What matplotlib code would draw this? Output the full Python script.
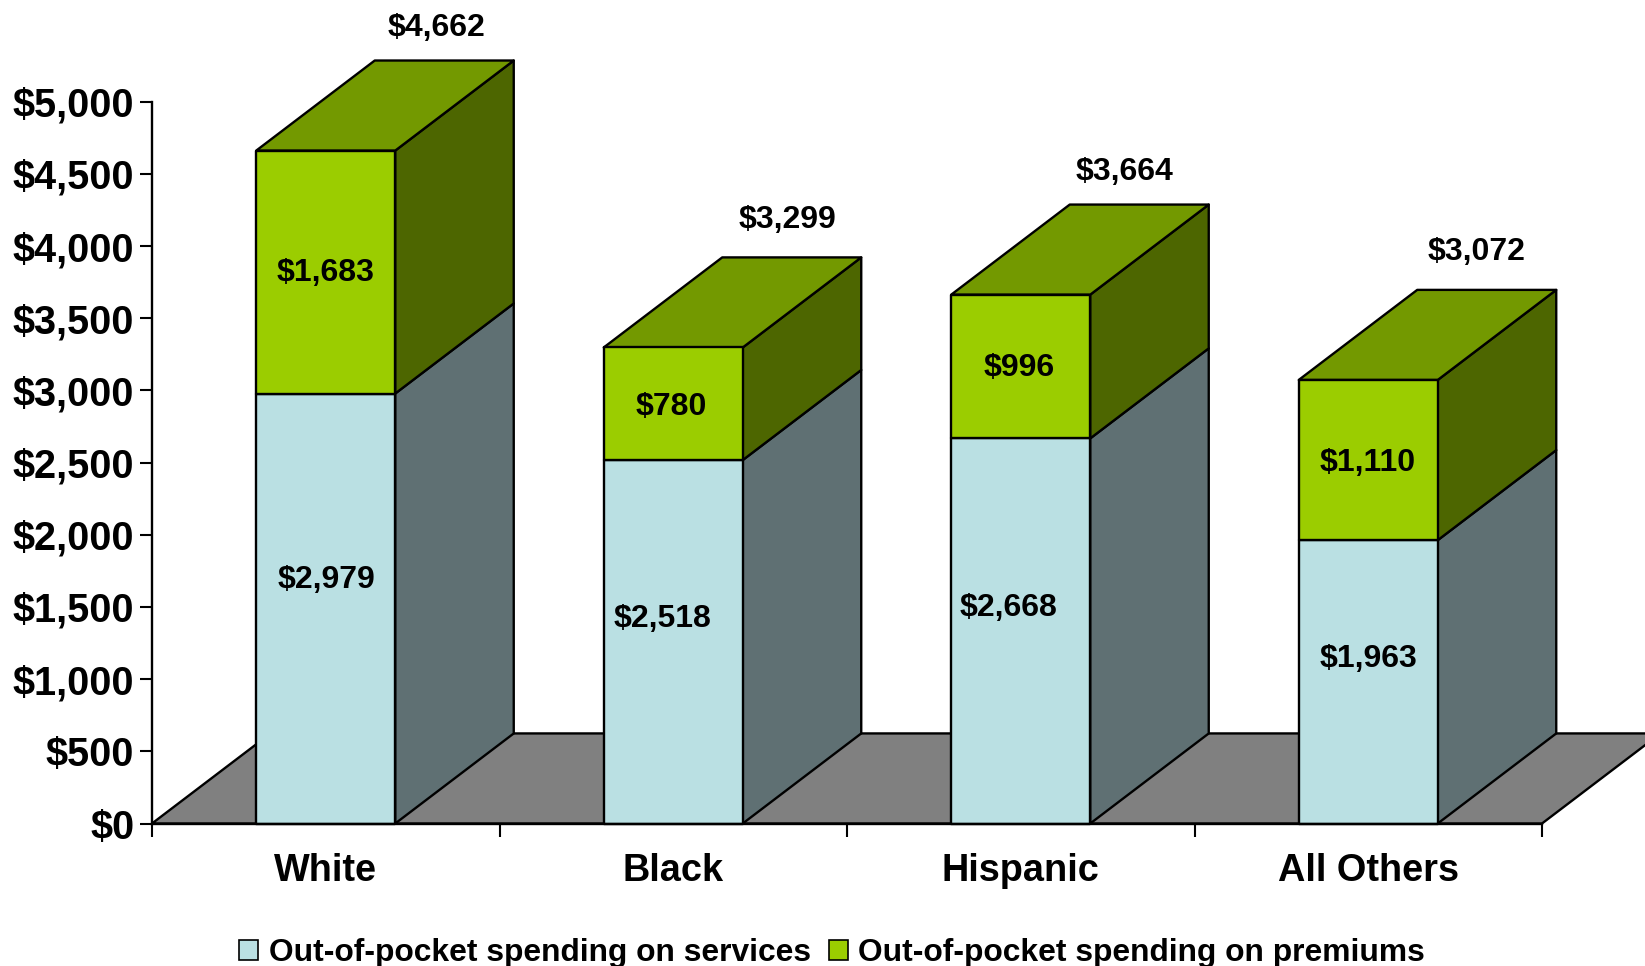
import numpy as np
from matplotlib import pyplot as plt
from matplotlib.patches import Polygon, Patch

plt.rcParams['font.family'] = ['Liberation Sans', 'DejaVu Sans']
plt.rcParams['font.weight'] = 'bold'

groups = ['White', 'Black', 'Hispanic', 'All Others']
services = [2979, 2518, 2668, 1963]
premiums = [1683, 780, 996, 1110]
totals = [4662, 3299, 3664, 3072]
yticks = [0, 500, 1000, 1500, 2000, 2500, 3000, 3500, 4000, 4500, 5000]

# colours: front, side, top
c_serv = ['#BAE0E3', '#5F7073', '#8FAEB0']
c_prem = ['#9BCD00', '#4D6600', '#739900']
c_floor = '#808080'

# fake 3D depth, in data units
dx = 0.341
dy = 624
width = 0.40
lw = 1.7


def box(ax, x0, x1, y0, y1, cols, top=False):
    kw = dict(edgecolor='black', linewidth=lw, joinstyle='round', clip_on=False, zorder=3)
    ax.add_patch(Polygon([(x1, y0), (x1 + dx, y0 + dy), (x1 + dx, y1 + dy), (x1, y1)],
                         facecolor=cols[1], **kw))
    if top:
        ax.add_patch(Polygon([(x0, y1), (x1, y1), (x1 + dx, y1 + dy), (x0 + dx, y1 + dy)],
                             facecolor=cols[2], **kw))
    ax.add_patch(Polygon([(x0, y0), (x1, y0), (x1, y1), (x0, y1)],
                         facecolor=cols[0], **kw))


fig = plt.figure(figsize=(16.45, 9.66), dpi=100)
ax = fig.add_axes([152 / 1645, 1 - 823.5 / 966, 1390 / 1645, 721.7 / 966])
ax.set_xlim(0, 4)
ax.set_ylim(0, 5000)

# floor
ax.add_patch(Polygon([(0, 0), (4, 0), (4 + dx, dy), (dx, dy)], facecolor=c_floor,
                     edgecolor='black', linewidth=lw, clip_on=False, zorder=1))

# label shifts in pixels, the original labels were placed by hand
serv_shift = [(1, 29), (-11, 23), (-12, 23), (0, 23)]
prem_shift = [(0, -1), (-2, -3), (-2, -1), (-1, -3)]
tot_shift = [(-8, 33), (-4, 37), (-15, 33), (-10, 38)]

for i in range(len(groups)):
    c = i + 0.5
    x0, x1 = c - width / 2, c + width / 2
    box(ax, x0, x1, 0, services[i], c_serv)
    box(ax, x0, x1, services[i], services[i] + premiums[i], c_prem, top=True)

    ax.annotate('${:,}'.format(services[i]), (c, services[i] / 2), xytext=serv_shift[i],
                textcoords='offset pixels', ha='center', va='center', fontsize=23, zorder=5)
    ax.annotate('${:,}'.format(premiums[i]), (c, services[i] + premiums[i] / 2), xytext=prem_shift[i],
                textcoords='offset pixels', ha='center', va='center', fontsize=23, zorder=5)
    ax.annotate('${:,}'.format(totals[i]), (c + dx, totals[i] + dy), xytext=tot_shift[i],
                textcoords='offset pixels', ha='center', va='center', fontsize=23, zorder=5,
                annotation_clip=False)

ax.spines['top'].set_visible(False)
ax.spines['right'].set_visible(False)
for s in ['left', 'bottom']:
    ax.spines[s].set_linewidth(1.7)
    ax.spines[s].set_zorder(4)

ax.set_yticks(yticks)
ax.set_yticklabels(['${:,}'.format(v) for v in yticks])
ax.tick_params(axis='y', length=9, width=1.5, labelsize=28.5, pad=3.8)
ax.set_xticks(np.arange(5))
ax.set_xticklabels([])
ax.tick_params(axis='x', which='major', length=9, width=1.5)
ax.set_xticks(np.arange(4) + 0.5, minor=True)
ax.set_xticklabels(groups, minor=True)
ax.tick_params(axis='x', which='minor', length=0, labelsize=27.3, pad=21.5)

handles = [Patch(facecolor=c_serv[0], edgecolor='black', linewidth=1.2),
           Patch(facecolor=c_prem[0], edgecolor='black', linewidth=1.2)]
fig.legend(handles, ['Out-of-pocket spending on services', 'Out-of-pocket spending on premiums'],
           loc='center', bbox_to_anchor=(832 / 1645, 1 - 953 / 966), ncol=2, frameon=False,
           fontsize=22.9, handlelength=0.6, handleheight=0.6, handletextpad=0.33, columnspacing=0.56,
           borderpad=0, borderaxespad=0)

fig.savefig('out.png', dpi=100)
